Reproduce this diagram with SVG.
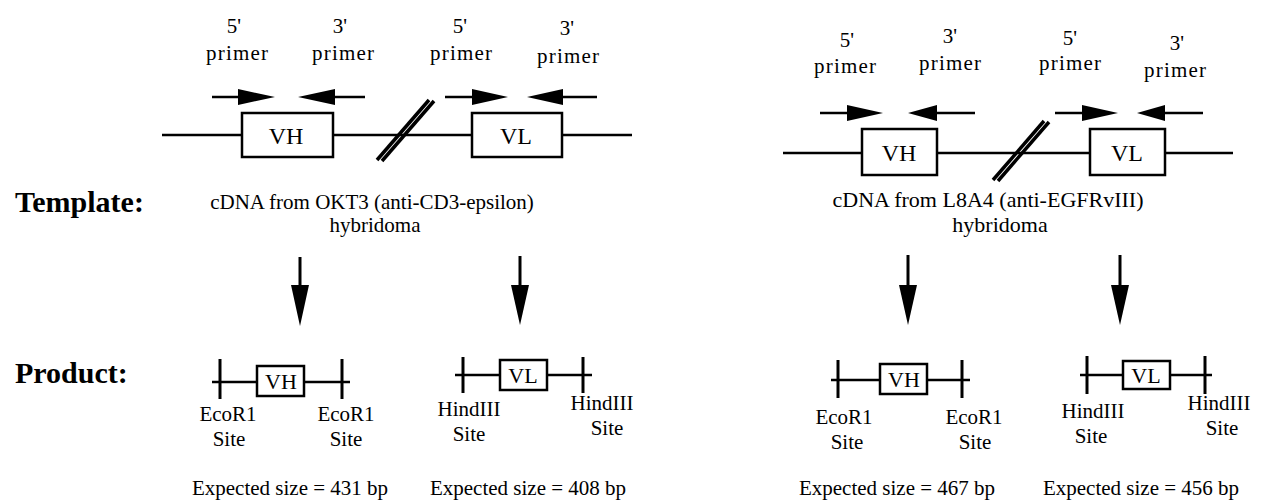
<svg xmlns="http://www.w3.org/2000/svg" width="1273" height="501" viewBox="0 0 1273 501">
<style>
text{font-family:"Liberation Serif","Times New Roman",serif;fill:#000}
.lbl{font-size:21px;text-anchor:middle}
.pl{font-size:21px;text-anchor:middle}
.cap{font-size:21px;text-anchor:middle}
.capr{font-size:22px;text-anchor:middle}
.box{font-size:24px;text-anchor:middle}
.pbox{font-size:22px;text-anchor:middle}
.hdr{font-size:30px;font-weight:bold}
.ln{stroke:#000;stroke-width:2.5;fill:none}
.rect{stroke:#000;stroke-width:2.5;fill:#fff}
.slash{stroke:#000;stroke-width:3.5;fill:none}
.shaft{stroke:#000;stroke-width:3;fill:none}
.tick{stroke:#000;stroke-width:3;fill:none}
.head{fill:#000;stroke:none}
</style>
<rect width="1273" height="501" fill="#fff"/>

<g id="headers">
<text class="hdr" x="15" y="212">Template:</text>
<text class="hdr" x="15" y="383">Product:</text>
</g>

<!-- LEFT PANEL -->
<g id="left-primer-labels">
<text class="pl" x="234" y="33">5'</text>
<text class="pl" x="237" y="60" textLength="62" lengthAdjust="spacing">primer</text>
<text class="pl" x="340" y="33">3'</text>
<text class="pl" x="343" y="60" textLength="62" lengthAdjust="spacing">primer</text>
<text class="pl" x="460" y="33">5'</text>
<text class="pl" x="461" y="60" textLength="62" lengthAdjust="spacing">primer</text>
<text class="pl" x="567" y="35">3'</text>
<text class="pl" x="568" y="63" textLength="62" lengthAdjust="spacing">primer</text>
</g>

<g id="left-template">
<line class="ln" x1="162" y1="135" x2="242" y2="135"/>
<line class="ln" x1="333" y1="135" x2="472" y2="135"/>
<line class="ln" x1="562" y1="135" x2="632" y2="135"/>
<g id="left-template-VH"><rect class="rect" x="242" y="113" width="91" height="44"/><text class="box" x="286" y="144">VH</text></g>
<g id="left-template-VL"><rect class="rect" x="472" y="113" width="90" height="44"/><text class="box" x="516" y="144">VL</text></g>
<line class="slash" x1="377" y1="160" x2="429" y2="100"/>
<line class="slash" x1="382" y1="161" x2="434" y2="101"/>
</g>

<g id="left-caption">
<text class="cap" x="372" y="209">cDNA from OKT3 (anti-CD3-epsilon)</text>
<text class="cap" x="375" y="232">hybridoma</text>
</g>

<g id="left-product-VH">
<line class="ln" x1="212" y1="382" x2="257" y2="382"/>
<line class="ln" x1="304" y1="382" x2="350" y2="382"/>
<line class="tick" x1="220" y1="359" x2="220" y2="399"/>
<line class="tick" x1="342" y1="359" x2="342" y2="399"/>
<rect class="rect" x="257" y="366" width="47" height="30"/>
<text class="pbox" x="281" y="389">VH</text>
<text class="lbl" x="228" y="421">EcoR1</text>
<text class="lbl" x="229" y="446">Site</text>
<text class="lbl" x="346" y="421">EcoR1</text>
<text class="lbl" x="346" y="446">Site</text>
<text class="lbl" x="290" y="495">Expected size = 431 bp</text>
</g>

<g id="left-product-VL">
<line class="ln" x1="455" y1="375" x2="500" y2="375"/>
<line class="ln" x1="547" y1="375" x2="592" y2="375"/>
<line class="tick" x1="463" y1="357" x2="463" y2="393"/>
<line class="tick" x1="583" y1="357" x2="583" y2="393"/>
<rect class="rect" x="500" y="360" width="47" height="30"/>
<text class="pbox" x="523" y="383">VL</text>
<text class="lbl" x="469" y="416">HindIII</text>
<text class="lbl" x="469" y="441">Site</text>
<text class="lbl" x="602" y="410">HindIII</text>
<text class="lbl" x="607" y="435">Site</text>
<text class="lbl" x="528" y="495">Expected size = 408 bp</text>
</g>

<!-- RIGHT PANEL -->
<g id="right-primer-labels">
<text class="pl" x="847" y="47">5'</text>
<text class="pl" x="845" y="73" textLength="62" lengthAdjust="spacing">primer</text>
<text class="pl" x="950" y="43">3'</text>
<text class="pl" x="950" y="70" textLength="62" lengthAdjust="spacing">primer</text>
<text class="pl" x="1070" y="45">5'</text>
<text class="pl" x="1070" y="70" textLength="62" lengthAdjust="spacing">primer</text>
<text class="pl" x="1177" y="50">3'</text>
<text class="pl" x="1175" y="77" textLength="62" lengthAdjust="spacing">primer</text>
</g>

<g id="right-template">
<line class="ln" x1="783" y1="153" x2="862" y2="153"/>
<line class="ln" x1="937" y1="153" x2="1090" y2="153"/>
<line class="ln" x1="1165" y1="153" x2="1233" y2="153"/>
<g id="right-template-VH"><rect class="rect" x="862" y="129" width="75" height="46"/><text class="box" x="899" y="161">VH</text></g>
<g id="right-template-VL"><rect class="rect" x="1090" y="129" width="75" height="46"/><text class="box" x="1127" y="161">VL</text></g>
<line class="slash" x1="993" y1="180" x2="1044" y2="121"/>
<line class="slash" x1="998" y1="181" x2="1049" y2="122"/>
</g>

<g id="right-caption">
<text class="capr" x="988" y="207">cDNA from L8A4 (anti-EGFRvIII)</text>
<text class="capr" x="1000" y="232">hybridoma</text>
</g>

<g id="right-product-VH">
<line class="ln" x1="831" y1="380" x2="880" y2="380"/>
<line class="ln" x1="927" y1="380" x2="970" y2="380"/>
<line class="tick" x1="838" y1="360" x2="838" y2="398"/>
<line class="tick" x1="962" y1="360" x2="962" y2="398"/>
<rect class="rect" x="880" y="364" width="47" height="30"/>
<text class="pbox" x="904" y="387">VH</text>
<text class="lbl" x="844" y="424">EcoR1</text>
<text class="lbl" x="847" y="449">Site</text>
<text class="lbl" x="974" y="424">EcoR1</text>
<text class="lbl" x="975" y="449">Site</text>
<text class="lbl" x="897" y="495">Expected size = 467 bp</text>
</g>

<g id="right-product-VL">
<line class="ln" x1="1080" y1="375" x2="1123" y2="375"/>
<line class="ln" x1="1170" y1="375" x2="1212" y2="375"/>
<line class="tick" x1="1087" y1="356" x2="1087" y2="394"/>
<line class="tick" x1="1205" y1="356" x2="1205" y2="394"/>
<rect class="rect" x="1123" y="361" width="47" height="28"/>
<text class="pbox" x="1146" y="383">VL</text>
<text class="lbl" x="1093" y="418">HindIII</text>
<text class="lbl" x="1091" y="443">Site</text>
<text class="lbl" x="1219" y="410">HindIII</text>
<text class="lbl" x="1222" y="435">Site</text>
<text class="lbl" x="1141" y="495">Expected size = 456 bp</text>
</g>

<g id="connectors">
<!-- left primer arrows -->
<line class="ln" x1="212" y1="97" x2="240" y2="97"/><polygon class="head" points="238,89 275,97 238,105"/>
<line class="ln" x1="335" y1="97" x2="365" y2="97"/><polygon class="head" points="335,89 298,97 335,105"/>
<line class="ln" x1="445" y1="97" x2="474" y2="97"/><polygon class="head" points="472,89 508,97 472,105"/>
<line class="ln" x1="563" y1="97" x2="597" y2="97"/><polygon class="head" points="563,89 527,97 563,105"/>
<!-- right primer arrows -->
<line class="ln" x1="820" y1="113" x2="849" y2="113"/><polygon class="head" points="847,105 883,113 847,121"/>
<line class="ln" x1="937" y1="113" x2="975" y2="113"/><polygon class="head" points="937,105 908,113 937,121"/>
<line class="ln" x1="1055" y1="113" x2="1084" y2="113"/><polygon class="head" points="1082,105 1118,113 1082,121"/>
<line class="ln" x1="1165" y1="113" x2="1203" y2="113"/><polygon class="head" points="1165,105 1137,113 1165,121"/>
<!-- down arrows -->
<line class="shaft" x1="300" y1="257" x2="300" y2="287"/><polygon class="head" points="291,285 309,285 300,326"/>
<line class="shaft" x1="520" y1="256" x2="520" y2="287"/><polygon class="head" points="511,285 529,285 520,325"/>
<line class="shaft" x1="908" y1="255" x2="908" y2="287"/><polygon class="head" points="899,285 917,285 908,325"/>
<line class="shaft" x1="1120" y1="255" x2="1120" y2="287"/><polygon class="head" points="1111,285 1129,285 1120,325"/>
</g>
</svg>
